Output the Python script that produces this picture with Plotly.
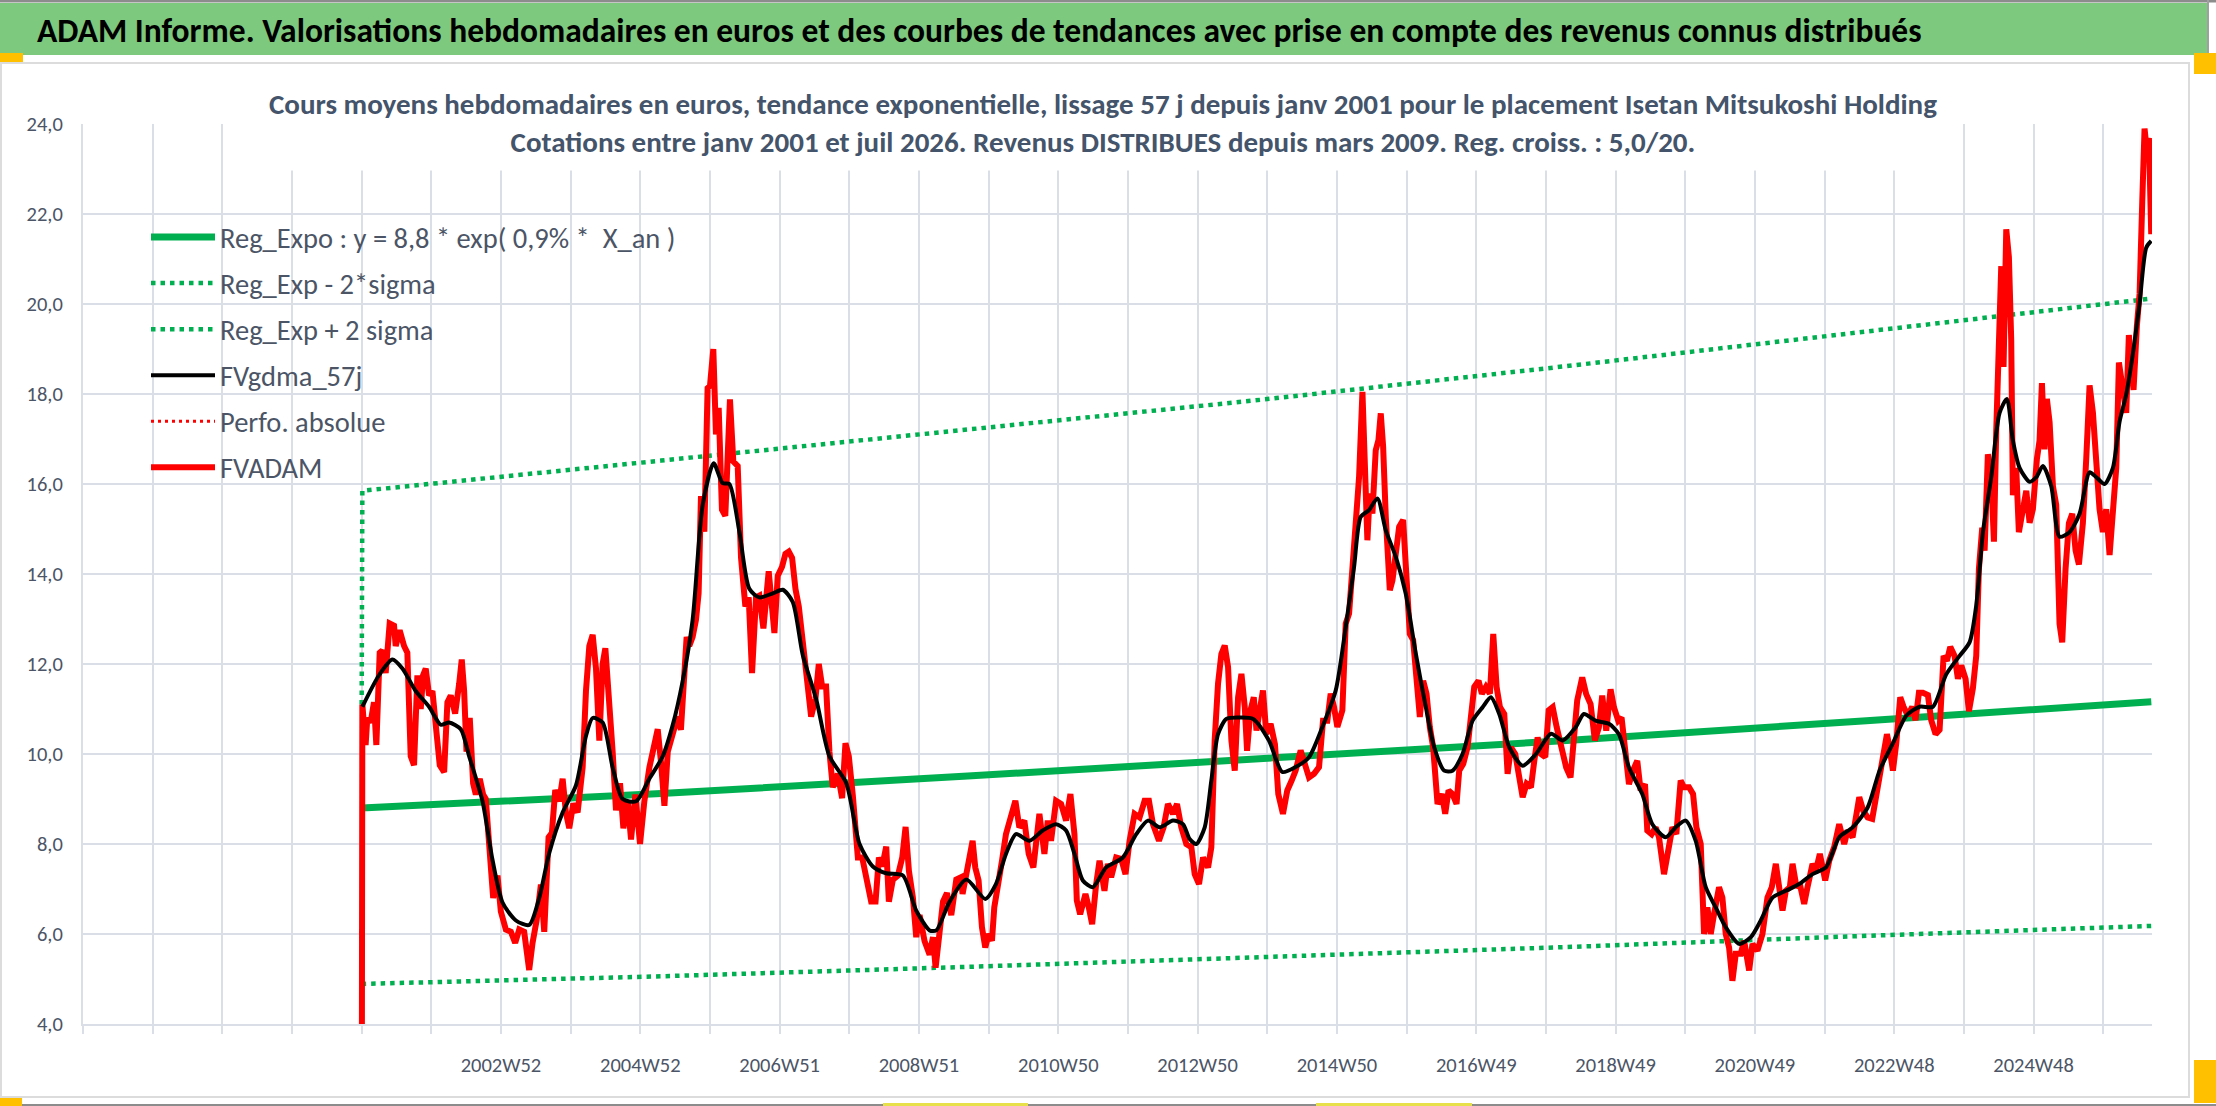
import plotly.graph_objects as go

# ---------------- DATA ----------------
# x positions are in "chart years": gridline k of the weekly category axis (52 weeks apart)
tick_years = list(range(1997, 2027))
tick_labels = {2003: "2002W52", 2005: "2004W52", 2007: "2006W51", 2009: "2008W51",
               2011: "2010W50", 2013: "2012W50", 2015: "2014W50", 2017: "2016W49",
               2019: "2018W49", 2021: "2020W49", 2023: "2022W48", 2025: "2024W48"}

# FVADAM (weekly price, euros)
fv_x = [
    2001.000, 2001.010, 2001.057, 2001.081, 2001.129, 2001.177, 2001.211, 2001.259, 2001.297, 2001.345,
    2001.402, 2001.465, 2001.489, 2001.546, 2001.609, 2001.656, 2001.704, 2001.752, 2001.800, 2001.848,
    2001.882, 2001.920, 2001.968, 2002.016, 2002.073, 2002.121, 2002.184, 2002.231, 2002.279, 2002.342,
    2002.399, 2002.437, 2002.471, 2002.505, 2002.552, 2002.600, 2002.639, 2002.696, 2002.744, 2002.782,
    2002.830, 2002.888, 2002.950, 2002.998, 2003.070, 2003.142, 2003.204, 2003.262, 2003.333, 2003.405,
    2003.453, 2003.511, 2003.573, 2003.621, 2003.683, 2003.731, 2003.779, 2003.837, 2003.885, 2003.932,
    2003.980, 2004.038, 2004.100, 2004.172, 2004.220, 2004.268, 2004.316, 2004.364, 2004.412, 2004.459,
    2004.498, 2004.546, 2004.603, 2004.651, 2004.709, 2004.757, 2004.819, 2004.867, 2004.929, 2004.996,
    2005.058, 2005.130, 2005.202, 2005.250, 2005.298, 2005.346, 2005.394,
    2005.463, 2005.535, 2005.583, 2005.631, 2005.665, 2005.703, 2005.751, 2005.799, 2005.837, 2005.871,
    2005.919, 2005.966, 2006.000, 2006.048, 2006.086, 2006.125, 2006.172, 2006.220, 2006.287, 2006.335,
    2006.398, 2006.446, 2006.508, 2006.556, 2006.604, 2006.661, 2006.709, 2006.767, 2006.843, 2006.925,
    2006.973, 2007.035, 2007.083, 2007.131, 2007.179, 2007.227, 2007.275, 2007.332, 2007.404, 2007.452,
    2007.514, 2007.562, 2007.610, 2007.667, 2007.715, 2007.763, 2007.835, 2007.897, 2007.945, 2007.993,
    2008.051, 2008.123, 2008.185, 2008.242, 2008.314, 2008.377, 2008.425, 2008.472, 2008.530, 2008.568,
    2008.626, 2008.698, 2008.760, 2008.808, 2008.856, 2008.913, 2008.961, 2009.009, 2009.081, 2009.153,
    2009.201, 2009.239, 2009.287, 2009.345, 2009.402, 2009.464, 2009.536,
    2009.602, 2009.626, 2009.674, 2009.722, 2009.770, 2009.808, 2009.856, 2009.904, 2009.952, 2010.000,
    2010.048, 2010.081, 2010.144, 2010.192, 2010.249, 2010.307, 2010.384, 2010.441, 2010.513, 2010.575,
    2010.642, 2010.729, 2010.801, 2010.849, 2010.896, 2010.968, 2011.040, 2011.112, 2011.174, 2011.232,
    2011.266, 2011.314, 2011.390, 2011.438, 2011.486, 2011.544, 2011.592, 2011.663, 2011.711, 2011.759,
    2011.831, 2011.903, 2011.965, 2012.023, 2012.095, 2012.167, 2012.239, 2012.301, 2012.359, 2012.445,
    2012.512, 2012.574, 2012.646, 2012.704, 2012.766, 2012.838, 2012.910, 2012.958, 2013.020, 2013.078,
    2013.150, 2013.197, 2013.245, 2013.293, 2013.341, 2013.389, 2013.437, 2013.485, 2013.533, 2013.581,
    2013.629, 2013.677, 2013.710, 2013.758, 2013.806, 2013.845, 2013.917,
    2013.938, 2013.986, 2014.048, 2014.110, 2014.158, 2014.225, 2014.287, 2014.350, 2014.407, 2014.479,
    2014.551, 2014.599, 2014.671, 2014.743, 2014.800, 2014.862, 2014.910, 2014.958, 2015.006, 2015.078,
    2015.126, 2015.174, 2015.231, 2015.294, 2015.318, 2015.366, 2015.404, 2015.437, 2015.471, 2015.509,
    2015.557, 2015.596, 2015.629, 2015.663, 2015.701, 2015.759, 2015.797, 2015.845, 2015.893, 2015.950,
    2015.998, 2016.046, 2016.094, 2016.142, 2016.190, 2016.238, 2016.286, 2016.333, 2016.381, 2016.444,
    2016.506, 2016.554, 2016.602, 2016.659, 2016.717, 2016.755, 2016.813, 2016.875, 2016.923, 2016.971,
    2017.033, 2017.081, 2017.138, 2017.196, 2017.244, 2017.292, 2017.340, 2017.402, 2017.450, 2017.498,
    2017.560, 2017.618, 2017.666, 2017.723, 2017.785, 2017.833, 2017.881, 2017.929, 2017.991, 2018.039,
    2018.097, 2018.154, 2018.217,
    2018.233, 2018.291, 2018.353, 2018.401, 2018.449, 2018.521, 2018.578, 2018.641, 2018.703, 2018.760,
    2018.808, 2018.866, 2018.928, 2018.976, 2019.038, 2019.086, 2019.144, 2019.192, 2019.249, 2019.311,
    2019.359, 2019.422, 2019.455, 2019.517, 2019.575, 2019.623, 2019.695, 2019.767, 2019.815, 2019.872,
    2019.934, 2019.982, 2020.054, 2020.112, 2020.160, 2020.222, 2020.270, 2020.318, 2020.366, 2020.413,
    2020.485, 2020.533, 2020.581, 2020.629, 2020.677, 2020.725, 2020.797, 2020.845, 2020.917, 2020.965,
    2021.036, 2021.108, 2021.180, 2021.242, 2021.300, 2021.348, 2021.396, 2021.444, 2021.501, 2021.540,
    2021.597, 2021.645, 2021.707, 2021.755, 2021.827, 2021.875, 2021.932, 2022.009, 2022.067, 2022.138,
    2022.210, 2022.282, 2022.330, 2022.402, 2022.450, 2022.498, 2022.555, 2022.618,
    2022.684, 2022.732, 2022.789, 2022.847, 2022.895, 2022.933, 2022.981, 2023.029, 2023.086, 2023.134,
    2023.196, 2023.258, 2023.306, 2023.354, 2023.411, 2023.483, 2023.531, 2023.593, 2023.651, 2023.708,
    2023.756, 2023.804, 2023.866, 2023.914, 2023.962, 2024.024, 2024.072, 2024.129, 2024.177, 2024.215,
    2024.263, 2024.297, 2024.344, 2024.392, 2024.431, 2024.464, 2024.502, 2024.536, 2024.569, 2024.608,
    2024.646, 2024.679, 2024.703, 2024.751, 2024.789, 2024.847, 2024.895, 2024.943, 2024.990, 2025.048,
    2025.086, 2025.120, 2025.158, 2025.191, 2025.230, 2025.278, 2025.325, 2025.373, 2025.411, 2025.459,
    2025.507, 2025.555, 2025.603, 2025.651, 2025.708, 2025.756, 2025.804, 2025.852, 2025.900, 2025.947,
    2025.995, 2026.043, 2026.091, 2026.139, 2026.187, 2026.225, 2026.273, 2026.330, 2026.368, 2026.402,
    2026.435, 2026.483, 2026.522, 2026.560, 2026.593, 2026.627, 2026.656, 2026.689,
]
fv_y = [
    0.0, 11.1, 10.2, 10.8, 10.7, 11.15, 10.2, 12.25, 12.3, 11.8,
    12.9, 12.85, 12.4, 12.75, 12.4, 12.25, 9.95, 9.75, 11.75, 11.0,
    11.75, 11.9, 11.3, 11.4, 10.5, 9.75, 9.6, 11.15, 11.3, 10.9,
    11.55, 12.1, 11.4, 10.05, 10.8, 9.35, 9.1, 9.45, 9.1, 9.0,
    8.0, 6.8, 7.3, 6.5, 6.1, 6.05, 5.8, 6.1, 6.05, 5.2,
    5.8, 6.3, 7.1, 6.05, 8.15, 8.25, 9.2, 8.95, 9.45, 8.7,
    8.35, 8.9, 8.7, 9.7, 11.4, 12.4, 12.65, 11.9, 10.3, 12.0,
    12.35, 11.4, 10.05, 8.75, 9.35, 8.35, 8.95, 8.1, 9.1, 8.0,
    8.95, 9.7, 10.2, 10.55, 9.8, 8.85, 10.05,
    10.44, 10.83, 10.54, 11.9, 12.6, 12.4, 12.6, 12.98, 13.57, 15.73,
    14.94, 18.13, 18.18, 19.0, 17.1, 17.69, 15.43, 15.29, 17.88, 16.5,
    16.4, 14.36, 13.28, 13.48, 11.8, 13.48, 13.52, 12.79, 14.06, 12.69,
    13.96, 14.16, 14.45, 14.5, 14.36, 13.67, 13.28, 12.5, 11.32, 10.83,
    11.22, 12.0, 11.5, 11.5, 10.05, 9.26, 9.56, 9.02, 10.24, 9.95,
    9.07, 7.7, 7.7, 7.21, 6.72, 6.72, 7.7, 7.5, 7.94, 6.72,
    7.21, 7.3, 7.7, 8.38, 7.4, 6.81, 5.93, 6.42, 5.84, 5.54,
    5.93, 5.25, 5.93, 6.72, 6.91, 6.42, 7.21,
    7.26, 6.89, 7.33, 7.7, 8.07, 7.48, 7.19, 6.15, 5.7, 6.0,
    5.85, 6.59, 7.11, 7.63, 8.22, 8.52, 8.96, 8.37, 8.52, 7.78,
    7.48, 8.67, 7.78, 8.52, 8.07, 8.96, 8.89, 8.52, 9.11, 8.22,
    6.74, 6.44, 6.89, 6.59, 6.22, 7.11, 7.63, 6.96, 7.56, 7.26,
    7.7, 7.67, 7.33, 8.07, 8.67, 8.59, 8.96, 8.96, 8.44, 8.07,
    8.37, 8.89, 8.67, 8.89, 8.37, 8.0, 7.93, 7.33, 7.11, 7.7,
    7.48, 7.93, 10.3, 11.56, 12.22, 12.41, 11.93, 10.3, 9.63, 11.26,
    11.78, 11.04, 10.07, 10.96, 11.26, 10.52, 11.33,
    11.41, 10.45, 10.67, 10.22, 9.11, 8.67, 9.19, 9.41, 9.63, 10.08,
    9.71, 9.48, 9.56, 9.71, 10.74, 10.74, 11.34, 11.04, 10.6, 10.97,
    12.9, 13.12, 14.31, 16.01, 16.16, 18.05, 15.79, 14.75, 15.79, 15.34,
    16.75, 16.98, 17.57, 16.83, 15.27, 13.64, 13.86, 14.45, 15.05, 15.2,
    13.93, 12.67, 12.53, 11.71, 10.82, 11.63, 11.34, 10.6, 10.15, 8.89,
    9.11, 8.67, 9.19, 9.11, 8.89, 9.63, 9.78, 10.15, 10.74, 11.49,
    11.63, 11.34, 11.49, 11.34, 12.67, 11.49, 11.04, 10.89, 9.56, 10.15,
    10.0, 9.34, 9.04, 9.34, 9.26, 9.85, 10.37, 10.0, 9.93, 10.97,
    11.04, 10.6, 10.22,
    10.0, 9.7, 9.48, 10.3, 11.19, 11.7, 11.33, 11.11, 10.3, 10.59,
    11.3, 10.52, 11.44, 11.04, 10.74, 10.81, 10.07, 9.33, 9.63, 9.85,
    9.19, 9.33, 8.3, 8.22, 8.37, 8.15, 7.33, 8.0, 8.37, 8.22,
    9.41, 9.26, 9.26, 9.11, 8.37, 8.0, 6.0, 6.59, 6.0, 6.44,
    7.04, 6.81, 6.0, 5.7, 4.96, 5.56, 5.56, 5.85, 5.19, 5.78,
    5.63, 6.0, 6.81, 7.04, 7.56, 7.04, 6.52, 6.96, 7.04, 7.56,
    7.04, 7.11, 6.67, 7.04, 7.56, 7.41, 7.78, 7.19, 7.63, 7.93,
    8.44, 8.0, 8.3, 8.15, 8.59, 9.04, 8.74, 8.59,
    8.56, 9.02, 9.63, 10.03, 10.44, 10.14, 9.63, 10.24, 11.26, 11.05,
    10.85, 11.05, 10.75, 11.36, 11.36, 11.31, 10.75, 10.44, 10.54, 12.18,
    12.07, 12.38, 12.18, 11.67, 11.97, 11.67, 10.95, 11.46, 12.18, 14.11,
    15.03, 14.52, 16.66, 16.15, 14.72, 17.17, 19.72, 20.84, 18.6, 21.66,
    21.04, 19.21, 15.75, 16.36, 14.93, 15.54, 15.85, 15.14, 15.44, 16.56,
    16.97, 18.24, 16.77, 17.89, 17.37, 15.95, 15.54, 12.89, 12.48, 14.11,
    15.13, 15.34, 14.52, 14.21, 15.13, 16.56, 18.19, 17.58, 16.56, 15.44,
    14.93, 15.44, 14.42, 15.64, 16.36, 18.7, 18.19, 17.58, 19.31, 18.6,
    18.09, 19.51, 20.23, 22.27, 23.9, 23.39, 23.69, 21.55,
]

# FVgdma_57j (smoothed curve)
ma_x = [
    2001.010, 2001.249, 2001.441, 2001.585, 2001.776, 2001.968, 2002.136, 2002.255, 2002.423, 2002.543,
    2002.735, 2002.878, 2003.022, 2003.214, 2003.405, 2003.549, 2003.693, 2003.885, 2004.076, 2004.220,
    2004.316, 2004.459, 2004.603, 2004.747, 2004.939, 2005.130, 2005.322, 2005.463, 2005.607, 2005.751,
    2005.895, 2006.053, 2006.182, 2006.278, 2006.422, 2006.565, 2006.709, 2006.901, 2007.045, 2007.188,
    2007.332, 2007.524, 2007.715, 2007.955, 2008.147, 2008.338, 2008.530, 2008.770, 2008.961, 2009.153,
    2009.249, 2009.440, 2009.680, 2009.952, 2010.105, 2010.249, 2010.393, 2010.585, 2010.777, 2010.968,
    2011.112, 2011.232, 2011.352, 2011.496, 2011.687, 2011.927, 2012.119, 2012.287, 2012.454, 2012.646,
    2012.790, 2012.886, 2012.982, 2013.102, 2013.197, 2013.293, 2013.413, 2013.605, 2013.797, 2014.024,
    2014.216, 2014.407, 2014.599, 2014.791, 2014.982, 2015.126, 2015.246, 2015.342, 2015.461, 2015.581,
    2015.701, 2015.845, 2015.988, 2016.132, 2016.276, 2016.396, 2016.540, 2016.659, 2016.803, 2016.947,
    2017.091, 2017.210, 2017.330, 2017.474, 2017.666, 2017.857, 2018.073, 2018.241, 2018.425, 2018.545,
    2018.713, 2018.904, 2019.048, 2019.192, 2019.383, 2019.527, 2019.719, 2019.862, 2020.006, 2020.150,
    2020.294, 2020.437, 2020.581, 2020.773, 2020.941, 2021.084, 2021.252, 2021.444, 2021.635, 2021.827,
    2022.019, 2022.210, 2022.402, 2022.618, 2022.789, 2022.981, 2023.172, 2023.364, 2023.555, 2023.746,
    2023.938, 2024.081, 2024.177, 2024.273, 2024.392, 2024.512, 2024.617, 2024.703, 2024.799, 2024.943,
    2025.038, 2025.134, 2025.254, 2025.373, 2025.517, 2025.660, 2025.804, 2025.900, 2026.019, 2026.139,
    2026.234, 2026.330, 2026.426, 2026.522, 2026.617, 2026.689,
]
ma_y = [
    11.05, 11.75, 12.1, 11.9, 11.4, 11.05, 10.65, 10.7, 10.55, 9.95,
    8.95, 7.65, 6.7, 6.3, 6.2, 6.8, 7.8, 8.7, 9.3, 10.4,
    10.8, 10.7, 9.7, 9.0, 8.95, 9.45, 9.95, 10.63, 11.61, 12.98,
    15.53, 16.46, 16.02, 16.0, 14.94, 13.67, 13.48, 13.57, 13.65, 13.38,
    12.2, 11.22, 9.95, 9.36, 8.0, 7.5, 7.35, 7.3, 6.52, 6.08,
    6.08, 6.72, 7.21, 6.78, 7.11, 7.78, 8.22, 8.07, 8.3, 8.44,
    8.3, 7.78, 7.19, 7.04, 7.48, 7.7, 8.22, 8.52, 8.37, 8.52,
    8.44, 8.11, 8.0, 8.37, 9.41, 10.44, 10.78, 10.81, 10.78, 10.3,
    9.6, 9.71, 9.93, 10.6, 11.41, 12.82, 14.16, 15.27, 15.42, 15.68,
    14.97, 14.38, 13.56, 12.23, 11.04, 10.15, 9.63, 9.63, 10.0, 10.74,
    11.04, 11.26, 10.89, 10.15, 9.74, 10.0, 10.45, 10.3, 10.59, 10.89,
    10.74, 10.67, 10.44, 9.7, 9.11, 8.44, 8.15, 8.37, 8.52, 8.07,
    7.04, 6.59, 6.15, 5.78, 5.93, 6.3, 6.81, 6.96, 7.11, 7.33,
    7.48, 8.15, 8.37, 8.81, 9.63, 10.24, 10.85, 11.05, 11.05, 11.77,
    12.18, 12.48, 13.3, 14.93, 16.15, 17.58, 17.89, 16.97, 16.36, 16.05,
    16.15, 16.4, 15.95, 14.83, 14.93, 15.34, 16.26, 16.15, 16.0, 16.36,
    17.38, 17.99, 18.9, 20.02, 21.25, 21.4,
]

# Exponential regression and +/- 2 sigma bands
trend_x = [2001.0, 2005.3, 2009.7, 2013.9, 2018.3, 2022.6, 2026.69]
reg_y = [8.8, 9.12, 9.51, 9.89, 10.3, 10.74, 11.16]
lo_y = [4.89, 5.06, 5.27, 5.48, 5.71, 5.96, 6.18]
hi_x = [2001.0, 2001.01, 2005.3, 2009.7, 2013.9, 2018.3, 2022.6, 2026.69]
hi_y = [11.1, 15.85, 16.52, 17.2, 17.87, 18.62, 19.38, 20.12]

assert len(fv_x) == len(fv_y), (len(fv_x), len(fv_y))
assert len(ma_x) == len(ma_y), (len(ma_x), len(ma_y))

title_text = ("ADAM Informe. Valorisations hebdomadaires en euros et des courbes de tendances "
              "avec prise en compte des revenus connus distribués")
subtitle_lines = [
    "Cours moyens hebdomadaires en euros, tendance exponentielle, lissage 57 j depuis janv 2001 "
    "pour le placement Isetan Mitsukoshi Holding",
    "Cotations entre janv 2001 et juil 2026. Revenus DISTRIBUES depuis mars 2009. Reg. croiss. : 5,0/20.",
]

# ---------------- FIGURE ----------------
W, H = 2216, 1106
ML, MR, MT, MB = 83, 64, 124, 82
PW, PH = W - ML - MR, H - MT - MB


def px(x):
    return (x - ML) / PW


def py(y):
    return (H - MB - y) / PH


FONT = "Carlito, Lato, 'Open Sans', sans-serif"
TXT = "#4B5566"
GRID = "#D9DEE7"
GREEN = "#00B050"
DOT = "4.5px,5px"

fig = go.Figure()
fig.add_trace(go.Scatter(x=trend_x, y=reg_y, mode="lines", legendrank=1, legendgroup="a",
                         name="Reg_Expo : y = 8,8 * exp( 0,9% * \u00a0X_an )",
                         line=dict(color=GREEN, width=7)))
fig.add_trace(go.Scatter(x=trend_x, y=lo_y, mode="lines", legendrank=2, legendgroup="b",
                         name="Reg_Exp - 2*sigma",
                         line=dict(color=GREEN, width=4.5, dash=DOT)))
fig.add_trace(go.Scatter(x=hi_x, y=hi_y, mode="lines", legendrank=3, legendgroup="c",
                         name="Reg_Exp + 2 sigma",
                         line=dict(color=GREEN, width=4.5, dash=DOT)))
fig.add_trace(go.Scatter(x=[None], y=[None], mode="lines", legendrank=5, legendgroup="e",
                         name="Perfo. absolue",
                         line=dict(color="#FF0000", width=3, dash="3px,4px")))
fig.add_trace(go.Scatter(x=fv_x, y=fv_y, mode="lines", legendrank=6, legendgroup="f",
                         name="FVADAM", line=dict(color="#FF0000", width=6)))
fig.add_trace(go.Scatter(x=ma_x, y=ma_y, mode="lines", legendrank=4, legendgroup="d",
                         name="FVgdma_57j",
                         line=dict(color="#000000", width=4, shape="spline", smoothing=0.7)))

shapes = [
    # green banner
    dict(type="rect", xref="paper", yref="paper", x0=px(0), x1=px(2207), y0=py(55), y1=py(3),
         fillcolor="#7DC97D", line=dict(width=0), layer="below"),
    # window border lines
    dict(type="line", xref="paper", yref="paper", x0=px(0), x1=px(2216), y0=py(1), y1=py(1),
         line=dict(color="#8C8C8C", width=3)),
    dict(type="line", xref="paper", yref="paper", x0=px(0), x1=px(2216), y0=py(1105), y1=py(1105),
         line=dict(color="#8C8C8C", width=2)),
    dict(type="line", xref="paper", yref="paper", x0=px(2208), x1=px(2208), y0=py(55), y1=py(0),
         line=dict(color="#A0A0A0", width=2)),
    # chart frame
    dict(type="rect", xref="paper", yref="paper", x0=px(1), x1=px(2189), y0=py(1097), y1=py(63),
         line=dict(color="#DCDCDC", width=2), fillcolor="rgba(0,0,0,0)", layer="below"),
    # selection handles
    dict(type="rect", xref="paper", yref="paper", x0=px(0), x1=px(23), y0=py(62), y1=py(53),
         fillcolor="#FFC000", line=dict(width=0)),
    dict(type="rect", xref="paper", yref="paper", x0=px(2194), x1=px(2216), y0=py(74), y1=py(53),
         fillcolor="#FFC000", line=dict(width=0)),
    dict(type="rect", xref="paper", yref="paper", x0=px(2194), x1=px(2216), y0=py(1103), y1=py(1060),
         fillcolor="#FFC000", line=dict(width=0)),
    dict(type="rect", xref="paper", yref="paper", x0=px(0), x1=px(22), y0=py(1106), y1=py(1098),
         fillcolor="#FFC000", line=dict(width=0)),
    dict(type="rect", xref="paper", yref="paper", x0=px(883), x1=px(1028), y0=py(1106), y1=py(1103),
         fillcolor="#E8E04A", line=dict(width=0)),
    dict(type="rect", xref="paper", yref="paper", x0=px(1316), x1=px(1472), y0=py(1106), y1=py(1103),
         fillcolor="#E8E04A", line=dict(width=0)),
]

annotations = [
    dict(xref="paper", yref="paper", x=px(35), y=py(30), xanchor="left", yanchor="middle",
         text=title_text, showarrow=False,
         font=dict(family=FONT, size=33.5, color="#000000", weight="bold")),
    dict(xref="paper", yref="paper", x=px(1103), y=py(123), xanchor="center", yanchor="middle",
         text="<br>".join(subtitle_lines), showarrow=False, align="center",
         bgcolor="#FFFFFF", borderpad=10,
         font=dict(family=FONT, size=29, color="#44546A", weight="bold")),
]

fig.update_layout(
    width=W, height=H,
    margin=dict(l=ML, r=MR, t=MT, b=MB, pad=0),
    paper_bgcolor="#FFFFFF", plot_bgcolor="#FFFFFF",
    separators=", ",
    font=dict(family=FONT, color=TXT),
    shapes=shapes, annotations=annotations,
    showlegend=True,
    legend=dict(x=px(146), y=py(212), xanchor="left", yanchor="top",
                bgcolor="rgba(0,0,0,0)", borderwidth=0,
                font=dict(family=FONT, size=28.5, color=TXT),
                traceorder="grouped", tracegroupgap=6, itemwidth=64),
    xaxis=dict(range=[1997.0, 2026.70], tickmode="array", tickvals=tick_years,
               ticktext=[tick_labels.get(t, "") for t in tick_years],
               showgrid=True, gridcolor=GRID, gridwidth=2, zeroline=False,
               ticks="outside", ticklen=8, tickwidth=2, tickcolor=GRID,
               showline=True, linecolor=GRID, linewidth=2,
               tickfont=dict(family=FONT, size=20.5, color=TXT), ticklabelstandoff=13),
    yaxis=dict(range=[4, 24], tick0=4, dtick=2, tickformat=".1f",
               showgrid=True, gridcolor=GRID, gridwidth=2, zeroline=False,
               showline=True, linecolor=GRID, linewidth=2, ticks="",
               tickfont=dict(family=FONT, size=20.5, color=TXT), ticklabelstandoff=14),
)

fig.write_html("out.html", config={"displayModeBar": False},
               post_script="document.body.style.margin='0px';document.body.style.overflow='hidden';")
